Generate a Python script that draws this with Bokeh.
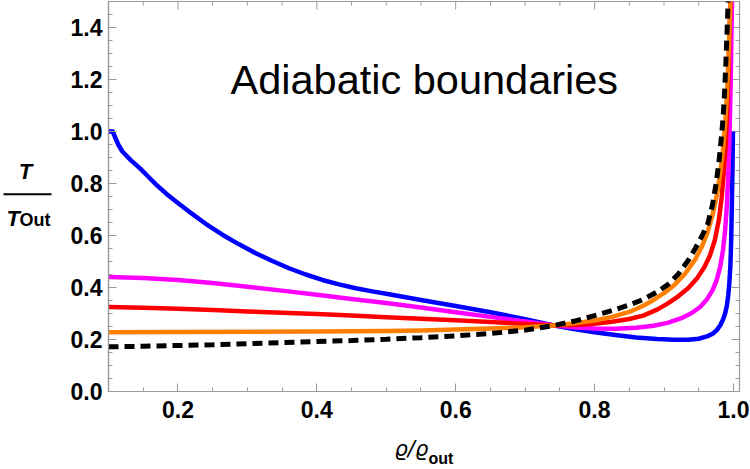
import math
from bokeh.plotting import figure
from bokeh.layouts import row, column
from bokeh.models import LinearAxis, FixedTicker, PrintfTickFormatter, Label, Range1d
from bokeh.embed import file_html
from bokeh.resources import INLINE

# ---------------- data ----------------
blue_x = [0.100, 0.106, 0.110, 0.114, 0.120, 0.132, 0.145, 0.157, 0.169, 0.184, 0.200, 0.216,
          0.240, 0.264, 0.288, 0.312, 0.336, 0.360, 0.384, 0.408, 0.432, 0.456, 0.480, 0.504,
          0.550, 0.600, 0.650, 0.700, 0.740, 0.770, 0.800, 0.830, 0.860, 0.890, 0.915, 0.935,
          0.950, 0.962, 0.970, 0.976, 0.981, 0.985, 0.988, 0.9905, 0.9925, 0.994, 0.9955, 0.9967,
          0.9977, 0.9986, 0.9993]
blue_y = [1.000, 1.000, 0.975, 0.950, 0.923, 0.890, 0.859, 0.827, 0.795, 0.759, 0.725, 0.692,
          0.645, 0.603, 0.566, 0.532, 0.502, 0.474, 0.450, 0.429, 0.412, 0.397, 0.385, 0.374,
          0.352, 0.329, 0.305, 0.278, 0.255, 0.240, 0.228, 0.217, 0.208, 0.202, 0.199, 0.199,
          0.203, 0.212, 0.222, 0.236, 0.255, 0.277, 0.300, 0.330, 0.370, 0.415, 0.480, 0.580,
          0.720, 0.860, 1.000]

magenta_x = [0.100, 0.150, 0.200, 0.250, 0.300, 0.350, 0.400, 0.450, 0.500, 0.550, 0.600, 0.650,
             0.700, 0.740, 0.770, 0.800, 0.830, 0.860, 0.885, 0.905, 0.925, 0.940, 0.952, 0.962,
             0.970, 0.976, 0.981, 0.985, 0.988, 0.9906, 0.9928, 0.9945, 0.9958, 0.9968, 0.9978]
magenta_y = [0.440, 0.437, 0.429, 0.417, 0.403, 0.388, 0.372, 0.356, 0.340, 0.323, 0.305, 0.287,
             0.269, 0.255, 0.247, 0.242, 0.241, 0.245, 0.253, 0.264, 0.282, 0.302, 0.325, 0.355,
             0.390, 0.430, 0.480, 0.545, 0.620, 0.720, 0.850, 1.000, 1.160, 1.320, 1.500]

red_x = [0.100, 0.150, 0.200, 0.250, 0.300, 0.350, 0.400, 0.450, 0.500, 0.550, 0.600, 0.650,
         0.700, 0.740, 0.770, 0.800, 0.825, 0.850, 0.870, 0.890, 0.905, 0.920, 0.935, 0.948,
         0.958, 0.966, 0.973, 0.979, 0.983, 0.986, 0.989, 0.991, 0.993, 0.9945, 0.9955]
red_y = [0.325, 0.322, 0.318, 0.313, 0.308, 0.303, 0.298, 0.292, 0.286, 0.280, 0.274, 0.267,
         0.260, 0.255, 0.256, 0.261, 0.268, 0.279, 0.292, 0.315, 0.338, 0.365, 0.398, 0.437,
         0.478, 0.522, 0.580, 0.660, 0.745, 0.840, 0.960, 1.080, 1.240, 1.390, 1.500]

orange_x = [0.100, 0.200, 0.300, 0.400, 0.500, 0.550, 0.600, 0.650, 0.700, 0.740, 0.770, 0.800,
            0.825, 0.850, 0.870, 0.885, 0.900, 0.915, 0.930, 0.945, 0.955, 0.963, 0.970, 0.976,
            0.981, 0.985, 0.988, 0.9906, 0.9925, 0.9944, 0.9956]
orange_y = [0.228, 0.229, 0.230, 0.231, 0.233, 0.235, 0.238, 0.242, 0.247, 0.254, 0.262, 0.273,
            0.287, 0.306, 0.330, 0.352, 0.378, 0.410, 0.452, 0.508, 0.560, 0.615, 0.680, 0.755,
            0.840, 0.930, 1.030, 1.140, 1.260, 1.400, 1.500]

black_x = [0.100, 0.150, 0.200, 0.250, 0.300, 0.350, 0.400, 0.450, 0.500, 0.550, 0.600, 0.650,
           0.700, 0.740, 0.770, 0.800, 0.825, 0.850, 0.870, 0.890, 0.905, 0.920, 0.935, 0.945,
           0.955, 0.963, 0.970, 0.975, 0.979, 0.982, 0.985, 0.987, 0.989, 0.991, 0.992, 0.9925]
black_y = [0.172, 0.174, 0.177, 0.180, 0.184, 0.188, 0.192, 0.196, 0.201, 0.207, 0.214, 0.223,
           0.236, 0.253, 0.270, 0.292, 0.311, 0.333, 0.354, 0.383, 0.410, 0.450, 0.505, 0.550,
           0.600, 0.645, 0.720, 0.800, 0.880, 0.960, 1.050, 1.140, 1.260, 1.400, 1.480, 1.520]

x_major = [0.2, 0.4, 0.6, 0.8, 1.0]
x_minor = [0.10, 0.15, 0.25, 0.30, 0.35, 0.45, 0.50, 0.55, 0.65, 0.70, 0.75, 0.85, 0.90, 0.95]
y_major = [0.0, 0.2, 0.4, 0.6, 0.8, 1.0, 1.2, 1.4]
y_minor = [0.05, 0.10, 0.15, 0.25, 0.30, 0.35, 0.45, 0.50, 0.55, 0.65, 0.70, 0.75, 0.85, 0.90,
           0.95, 1.05, 1.10, 1.15, 1.25, 1.30, 1.35, 1.45]

title_text = "Adiabatic boundaries"
ylabel_num = "T"
ylabel_den = "T"
ylabel_den_sub = "Out"
xlabel_main = "ϱ/ϱ"
xlabel_sub = "out"

# ---------------- layout ----------------
W, H = 750, 469
X0, X1 = 0.1, 1.0087
Y0, Y1 = 0.0, 1.5
FW, FH = 631, 390
YLW = 56            # width of the strip holding the y-axis title
XLH = 36            # height of the strip holding the x-axis title
ML, MR, MT = 108 - YLW, 11, 1
MB = H - XLH - MT - FH   # 42
TOPH = MT + FH + MB      # 433

FONT = "Liberation Sans"
AX = "#999999"
MID = 0.3465         # distance (in em) from the vertical middle of a label to its baseline

def dx(px):  # canvas pixel -> data x of the main plot
    return X0 + (px - 108) * (X1 - X0) / FW

def dy(py):  # canvas pixel -> data y of the main plot
    return Y0 + (MT + FH - py) * (Y1 - Y0) / FH

def strip(w, h):
    f = figure(frame_width=w, frame_height=h, x_range=Range1d(0, w), y_range=Range1d(0, h),
               min_border=0, output_backend="svg", toolbar_location=None,
               x_axis_location=None, y_axis_location=None)
    f.grid.visible = False
    f.outline_line_color = None
    f.background_fill_color = "white"
    f.border_fill_color = "white"
    return f

p = figure(frame_width=FW, frame_height=FH, min_border_left=ML, min_border_right=MR,
           min_border_top=MT, min_border_bottom=MB,
           x_range=Range1d(X0, X1), y_range=Range1d(Y0, Y1),
           output_backend="svg", toolbar_location=None, x_axis_location=None, y_axis_location=None)
p.grid.visible = False
p.outline_line_color = AX
p.outline_line_width = 1.2
p.background_fill_color = "white"
p.border_fill_color = "white"

def style_axis(ax, ticks, minor, standoff):
    ax.ticker = FixedTicker(ticks=ticks, minor_ticks=minor)
    ax.formatter = PrintfTickFormatter(format="%.1f")
    ax.axis_line_color = AX
    ax.axis_line_width = 1.2
    ax.major_tick_line_color = AX
    ax.minor_tick_line_color = AX
    ax.major_tick_in = 8
    ax.major_tick_out = 0
    ax.minor_tick_in = 4
    ax.minor_tick_out = 0
    ax.major_label_text_font = FONT
    ax.major_label_text_font_style = "bold"
    ax.major_label_text_font_size = "23px"
    ax.major_label_text_color = "black"
    ax.major_label_standoff = standoff

p.add_layout(LinearAxis(), "below")
p.add_layout(LinearAxis(), "left")
style_axis(p.below[0], x_major, x_minor, 9)
style_axis(p.left[0], y_major, y_minor, 6)

# frame ticks on the top and right edges (no labels), pointing inwards
p.ray(x=x_major, y=[Y1] * len(x_major), length=8, length_units="screen", angle=-math.pi / 2,
      line_color=AX, line_width=1)
p.ray(x=x_minor, y=[Y1] * len(x_minor), length=4, length_units="screen", angle=-math.pi / 2,
      line_color=AX, line_width=1)
p.ray(x=[X1] * len(y_major), y=y_major, length=8, length_units="screen", angle=math.pi,
      line_color=AX, line_width=1)
p.ray(x=[X1] * len(y_minor), y=y_minor, length=4, length_units="screen", angle=math.pi,
      line_color=AX, line_width=1)

LW = 4.5
p.line(blue_x, blue_y, line_color="#0000FF", line_width=LW, line_join="round")
p.line(magenta_x, magenta_y, line_color="#FF00FF", line_width=LW, line_join="round")
p.line(red_x, red_y, line_color="#FF0000", line_width=LW, line_join="round")
p.line(orange_x, orange_y, line_color="#FF8000", line_width=LW, line_join="round")
p.line(black_x, black_y, line_color="black", line_width=5, line_dash="10 6")

# title inside the plot (baseline at canvas y = 93.3)
TS = 41.5
p.add_layout(Label(x=dx(230), y=dy(93.3 - MID * TS), text=title_text, text_font=FONT,
                   text_font_size=f"{TS}px", text_color="black", text_baseline="middle"))

# ---- y-axis title strip (left) ----
yl = strip(YLW, TOPH)
def ylabel(px, base, text, size, style="bold", align="left"):
    yl.add_layout(Label(x=px, y=TOPH - (base - MID * size), text=text, text_font=FONT,
                        text_font_style=style, text_font_size=f"{size}px", text_align=align,
                        text_baseline="middle", text_color="black"))
ylabel(25, 178, ylabel_num, 22, style="bold italic", align="center")
yl.segment(x0=[3], y0=[TOPH - 192.7], x1=[51], y1=[TOPH - 192.7], line_color="black",
           line_width=2)
ylabel(6, 225, ylabel_den, 22, style="bold italic")
ylabel(19, 225, ylabel_den_sub, 18)

# ---- x-axis title strip (bottom) ----
xl = strip(W, XLH)
XS1, XS2 = 21, 16
xl.add_layout(Label(x=394, y=H - (456 - MID * XS1), text=xlabel_main, text_font="DejaVu Sans",
                    text_font_style="italic", text_font_size=f"{XS1}px",
                    text_baseline="middle", text_color="black"))
xl.add_layout(Label(x=428, y=H - (463.3 - MID * XS2), text=xlabel_sub, text_font=FONT,
                    text_font_style="bold", text_font_size=f"{XS2}px",
                    text_baseline="middle", text_color="black"))

layout = column(row(yl, p, spacing=0), xl, spacing=0)
open("out.html", "w").write(file_html(layout, INLINE))
